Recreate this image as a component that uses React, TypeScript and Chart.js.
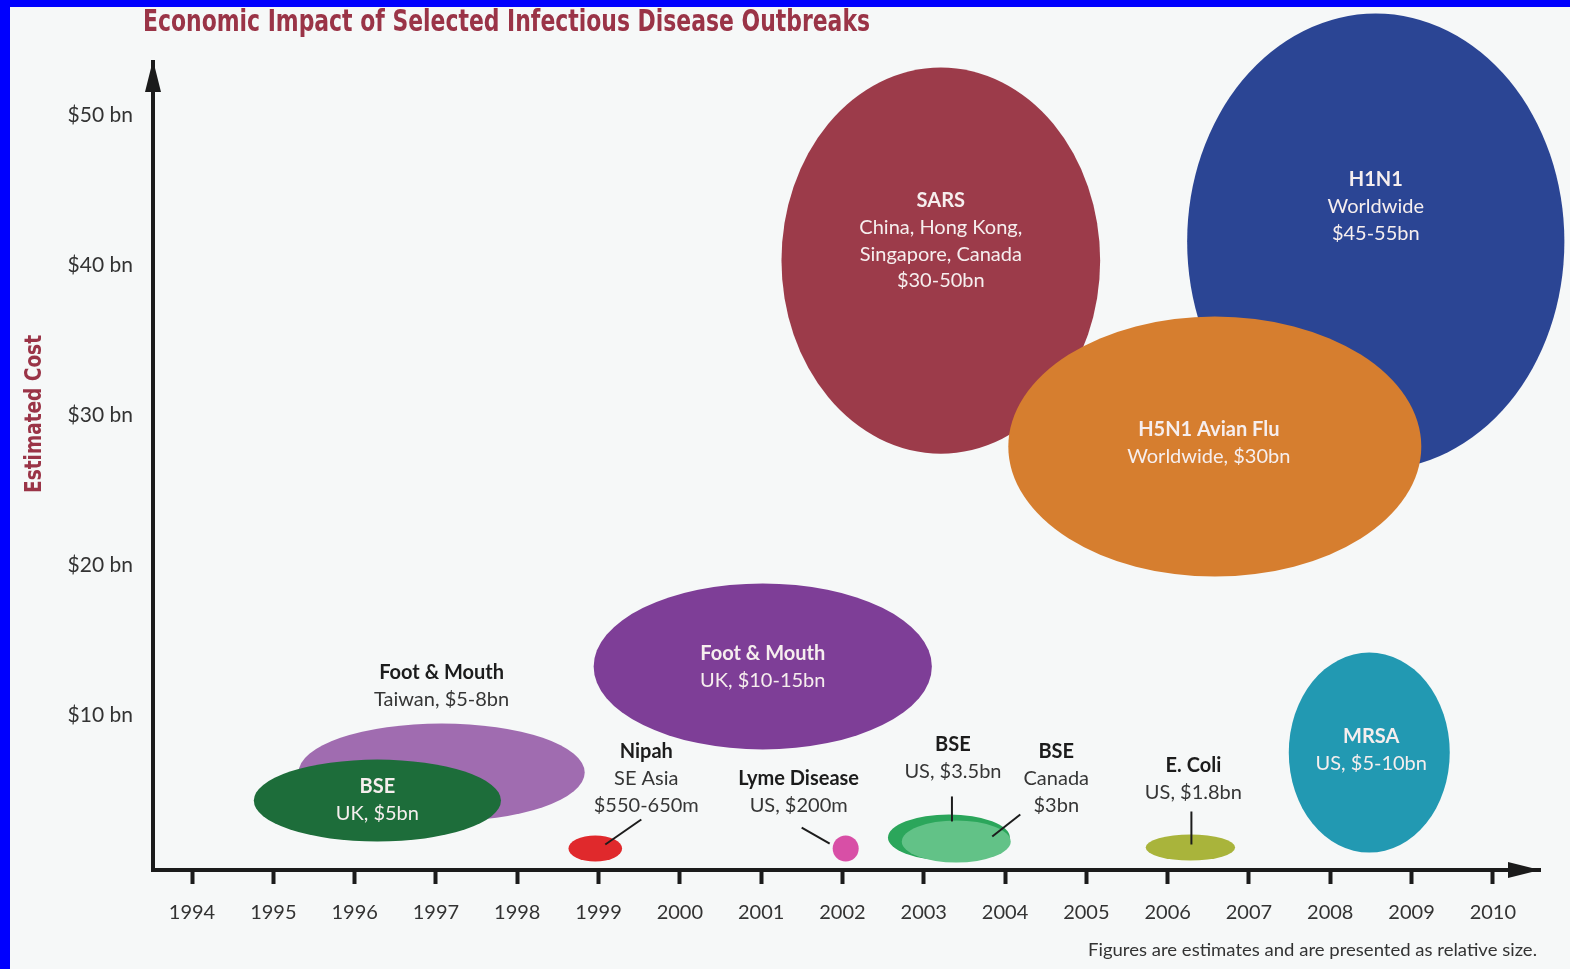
import React, { useEffect, useRef } from "react";
import { Chart, registerables } from "chart.js";

Chart.register(...registerables);

// Axis ticks
const YEAR_TICKS = [1994, 1995, 1996, 1997, 1998, 1999, 2000, 2001, 2002, 2003, 2004, 2005, 2006, 2007, 2008, 2009, 2010];
const COST_TICKS = [10, 20, 30, 40, 50];

// Outbreak labels
const OUTBREAK_TITLES = [
  "Foot & Mouth",
  "BSE",
  "Nipah",
  "Foot & Mouth",
  "Lyme Disease",
  "BSE",
  "BSE",
  "E. Coli",
  "MRSA",
  "SARS",
  "H1N1",
  "H5N1 Avian Flu",
];
const OUTBREAK_NOTES = [
  ["Taiwan, $5-8bn"],
  ["UK, $5bn"],
  ["SE Asia", "$550-650m"],
  ["UK, $10-15bn"],
  ["US, $200m"],
  ["US, $3.5bn"],
  ["Canada", "$3bn"],
  ["US, $1.8bn"],
  ["US, $5-10bn"],
  ["China, Hong Kong,", "Singapore, Canada", "$30-50bn"],
  ["Worldwide", "$45-55bn"],
  ["Worldwide, $30bn"],
];

// Bubble centres (year, $bn) and half extents (years, $bn)
const CENTER_YEAR = [1997.07, 1996.28, 1998.96, 2001.02, 2002.04, 2003.31, 2003.4, 2006.28, 2008.48, 2003.21, 2008.56, 2006.58];
const CENTER_COST = [6.2, 4.33, 1.13, 13.27, 1.13, 1.87, 1.6, 1.2, 7.53, 40.33, 41.6, 27.93];
const HALF_YEARS = [1.76, 1.52, 0.33, 2.08, 0.16, 0.75, 0.67, 0.55, 0.99, 1.96, 2.32, 2.54];
const HALF_COST = [3.27, 2.73, 0.87, 5.53, 0.87, 1.53, 1.4, 0.87, 6.67, 12.87, 15.2, 8.67];

// Styling for each bubble
const BUBBLE_COLORS = [
  "#a06cb0",
  "#1d6d3a",
  "#e0292c",
  "#7e3e97",
  "#d84fa6",
  "#2ba65b",
  "#62c287",
  "#a9b43b",
  "#2299b2",
  "#9c3b4a",
  "#2b4594",
  "#d67e2f",
];

type LabelLayout = {
  dx: number;
  dy: number;
  inside: boolean;
  leader?: [number, number, number, number];
};

// Label offsets (px) from each bubble centre, with optional leader lines
const LABEL_LAYOUT: LabelLayout[] = [
  { dx: 0, dy: -100, inside: false },
  { dx: 0, dy: -14, inside: true },
  { dx: 51, dy: -97, inside: false, leader: [46, -29, 10, -4] },
  { dx: 0, dy: -13, inside: true },
  { dx: -47, dy: -70, inside: false, leader: [-44, -21, -16, -5] },
  { dx: 4, dy: -93, inside: false, leader: [3, -41, 3, -16] },
  { dx: 100, dy: -90, inside: false, leader: [64, -27, 36, -5] },
  { dx: 3, dy: -82, inside: false, leader: [1, -36, 1, -3] },
  { dx: 2, dy: -16, inside: true },
  { dx: 0, dy: -60, inside: true },
  { dx: 0, dy: -62, inside: true },
  { dx: -6, dy: -17, inside: true },
];

const FONT_FAMILY = 'Lato, "Open Sans", "DejaVu Sans", sans-serif';
const CONDENSED_FAMILY = '"Liberation Sans Narrow", "DejaVu Sans Condensed", "Open Sans", sans-serif';
const TITLE_COLOR = "#9a3447";
const AXIS_COLOR = "#1b1b1b";
const LINE_GAP = 26.8;

function fitText(ctx: CanvasRenderingContext2D, text: string, x: number, y: number, width: number) {
  const w = ctx.measureText(text).width;
  ctx.save();
  ctx.translate(x, y);
  ctx.scale(width / w, 1);
  ctx.fillText(text, 0, 0);
  ctx.restore();
}

const decorPlugin = {
  id: "outbreakDecor",
  beforeDraw(chart: Chart) {
    const { ctx, width, height } = chart;
    ctx.save();
    ctx.fillStyle = "#0000fe";
    ctx.fillRect(0, 0, width, height);
    ctx.fillStyle = "#f6f8f8";
    ctx.fillRect(10, 7, width - 10, height - 7);
    ctx.restore();
  },
  beforeDatasetsDraw(chart: Chart) {
    const { ctx } = chart;
    const xs = chart.scales.x;
    const ys = chart.scales.y;
    ctx.save();
    CENTER_YEAR.forEach((year, i) => {
      const cx = xs.getPixelForValue(year);
      const cy = ys.getPixelForValue(CENTER_COST[i]);
      const rx = Math.abs(xs.getPixelForValue(year + HALF_YEARS[i]) - cx);
      const ry = Math.abs(ys.getPixelForValue(CENTER_COST[i] + HALF_COST[i]) - cy);
      ctx.beginPath();
      ctx.ellipse(cx, cy, rx, ry, 0, 0, Math.PI * 2);
      ctx.fillStyle = BUBBLE_COLORS[i];
      ctx.fill();
    });
    ctx.restore();
  },
  afterDatasetsDraw(chart: Chart) {
    const { ctx } = chart;
    const xs = chart.scales.x;
    const ys = chart.scales.y;
    ctx.save();
    ctx.textAlign = "center";
    ctx.textBaseline = "middle";
    CENTER_YEAR.forEach((year, i) => {
      const cx = xs.getPixelForValue(year);
      const cy = ys.getPixelForValue(CENTER_COST[i]);
      const lay = LABEL_LAYOUT[i];
      const lx = cx + lay.dx;
      const ly = cy + lay.dy;
      ctx.fillStyle = lay.inside ? "#f6eeee" : "#1c1c1c";
      ctx.font = `bold 20px ${FONT_FAMILY}`;
      ctx.fillText(OUTBREAK_TITLES[i], lx, ly);
      ctx.fillStyle = lay.inside ? "#f6eeee" : "#363636";
      ctx.font = `20px ${FONT_FAMILY}`;
      OUTBREAK_NOTES[i].forEach((t, k) => ctx.fillText(t, lx, ly + (k + 1) * LINE_GAP));
      if (lay.leader) {
        const [x1, y1, x2, y2] = lay.leader;
        ctx.beginPath();
        ctx.moveTo(cx + x1, cy + y1);
        ctx.lineTo(cx + x2, cy + y2);
        ctx.strokeStyle = "#1c1c1c";
        ctx.lineWidth = 2;
        ctx.stroke();
      }
    });
    ctx.restore();
  },
  afterDraw(chart: Chart) {
    const { ctx, chartArea } = chart;
    ctx.save();
    ctx.fillStyle = AXIS_COLOR;
    // y-axis arrow head
    ctx.beginPath();
    ctx.moveTo(chartArea.left, chartArea.top - 2);
    ctx.lineTo(chartArea.left - 8, chartArea.top + 30);
    ctx.lineTo(chartArea.left + 8, chartArea.top + 30);
    ctx.closePath();
    ctx.fill();
    // x-axis arrow head
    ctx.beginPath();
    ctx.moveTo(chartArea.right, chartArea.bottom);
    ctx.lineTo(chartArea.right - 32, chartArea.bottom - 8);
    ctx.lineTo(chartArea.right - 32, chartArea.bottom + 8);
    ctx.closePath();
    ctx.fill();

    // title
    ctx.fillStyle = TITLE_COLOR;
    ctx.textAlign = "left";
    ctx.textBaseline = "alphabetic";
    ctx.font = `bold 31px ${CONDENSED_FAMILY}`;
    fitText(ctx, "Economic Impact of Selected Infectious Disease Outbreaks", 143, 31, 727);

    // y-axis title
    ctx.save();
    ctx.translate(35, 414);
    ctx.rotate(-Math.PI / 2);
    ctx.textAlign = "left";
    ctx.textBaseline = "middle";
    ctx.font = `bold 23px ${CONDENSED_FAMILY}`;
    fitText(ctx, "Estimated Cost", -79, 0, 158);
    ctx.restore();

    // footnote
    ctx.fillStyle = "#333333";
    ctx.textAlign = "left";
    ctx.textBaseline = "middle";
    ctx.font = `17px ${FONT_FAMILY}`;
    fitText(ctx, "Figures are estimates and are presented as relative size.", 1088, 951, 449);
    ctx.restore();
  },
};

export default function App() {
  const canvasRef = useRef<HTMLCanvasElement | null>(null);

  useEffect(() => {
    document.body.style.margin = "0";
    const canvas = canvasRef.current;
    if (!canvas) return;
    const chart = new Chart(canvas, {
      type: "scatter",
      data: {
        datasets: [
          {
            data: CENTER_YEAR.map((x, i) => ({ x, y: CENTER_COST[i] })),
            pointRadius: 0,
            pointHoverRadius: 0,
          },
        ],
      },
      options: {
        responsive: false,
        animation: false,
        devicePixelRatio: 1,
        events: [],
        layout: { padding: { left: 0, top: 62, right: 30, bottom: 0 } },
        plugins: {
          legend: { display: false },
          tooltip: { enabled: false },
          title: { display: false },
        },
        scales: {
          x: {
            type: "linear",
            min: 1993.52,
            max: 2010.58,
            afterBuildTicks: (s: any) => {
              s.ticks = YEAR_TICKS.map((value) => ({ value }));
            },
            afterFit: (s: any) => {
              s.height = 99;
            },
            grid: {
              display: true,
              drawOnChartArea: false,
              drawTicks: true,
              tickLength: 14,
              tickWidth: 4,
              tickColor: AXIS_COLOR,
            },
            border: { display: true, color: AXIS_COLOR, width: 4 },
            ticks: {
              color: "#333333",
              font: { family: FONT_FAMILY, size: 20 },
              padding: 17,
              maxRotation: 0,
              autoSkip: false,
              callback: (v: any) => String(v),
            },
          },
          y: {
            type: "linear",
            min: -0.3,
            max: 53.57,
            afterBuildTicks: (s: any) => {
              s.ticks = COST_TICKS.map((value) => ({ value }));
            },
            afterFit: (s: any) => {
              s.width = 153;
            },
            grid: { display: false },
            border: { display: true, color: AXIS_COLOR, width: 4 },
            ticks: {
              color: "#333333",
              font: { family: FONT_FAMILY, size: 21 },
              padding: 12,
              callback: (v: any) => `$${v} bn`,
            },
          },
        },
      },
      plugins: [decorPlugin],
    });
    return () => chart.destroy();
  }, []);

  return (
    <div style={{ width: 1570, height: 969 }}>
      <canvas ref={canvasRef} width={1570} height={969} style={{ display: "block" }} />
    </div>
  );
}
